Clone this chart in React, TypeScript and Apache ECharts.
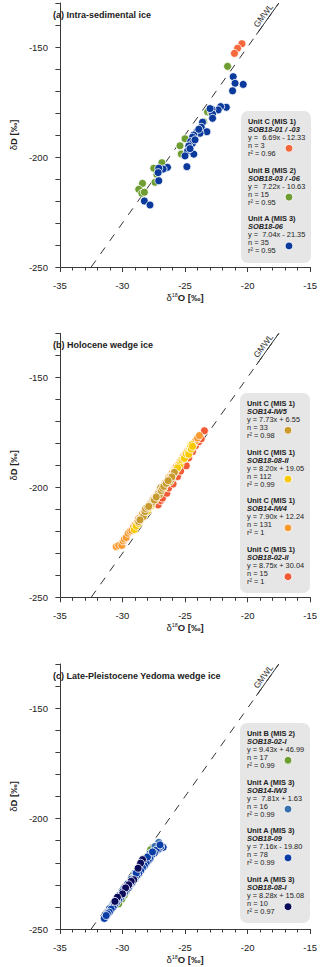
import React, { useEffect, useRef } from "react";
import * as echarts from "echarts";

const FONT = "'Liberation Sans', Arial, Helvetica, sans-serif";

const X_MIN = -35;
const X_MAX = -15;
const X_STEP = 5;
const Y_MIN = -250;
const Y_MAX = -130;
const Y_STEP = 10;
const Y_LABELS = [-250, -200, -150];

const GMWL_LINE = [[-32.5, -250], [-17.5, -130]];
const GMWL_UNDERLINE = [[-19.3, -144.4], [-17.5, -130]];
const GMWL_LABEL_AT = [-18.4, -137.2];

const PANEL_TITLES = [
  "(a) Intra-sedimental ice",
  "(b) Holocene wedge ice",
  "(c) Late-Pleistocene Yedoma wedge ice",
];

// ---------- panel (a) ----------
const A_UNIT_C = [[-20.45, -148.5], [-20.8, -150.6], [-21.05, -152.9]];
const A_UNIT_B = [
  [-21.6, -158.8], [-23.2, -179.5], [-23.5, -184.0], [-25.0, -191.7], [-25.4, -194.9],
  [-25.3, -198.6], [-26.85, -202.6], [-27.5, -205.1], [-27.25, -207.9], [-27.4, -211.5],
  [-28.4, -212.0], [-28.7, -214.7], [-28.45, -216.5], [-28.25, -216.0], [-22.9, -179.8],
];
const A_UNIT_A = [
  [-21.15, -163.5], [-21.0, -166.5], [-20.35, -167.0], [-21.2, -169.9], [-21.7, -177.4],
  [-22.15, -177.1], [-22.35, -178.6], [-22.85, -178.3], [-22.8, -180.5], [-22.8, -182.4],
  [-23.6, -184.2], [-23.7, -186.5], [-23.25, -188.5], [-24.05, -188.5], [-23.8, -189.2],
  [-24.3, -190.0], [-24.4, -191.0], [-24.55, -193.0], [-24.4, -193.8], [-24.7, -195.0],
  [-24.8, -197.3], [-25.0, -199.5], [-24.3, -198.7], [-24.85, -204.4], [-26.4, -204.7],
  [-26.75, -205.5], [-27.1, -205.1], [-27.15, -207.1], [-27.1, -210.8], [-28.25, -220.0],
  [-27.8, -221.8], [-23.0, -178.0], [-23.9, -187.4], [-24.6, -196.2], [-24.2, -192.2],
];
const A_NAMES = ["Unit C (MIS 1)", "Unit B (MIS 2)", "Unit A (MIS 3)"];
const A_SAMPLES = ["SOB18-01 / -03", "SOB18-03 / -06", "SOB18-06"];
const A_EQS = ["y =  6.69x - 12.33", "y =  7.22x - 10.63", "y =  7.04x - 21.35"];
const A_N = [3, 15, 35];
const A_R2 = ["0.96", "0.95", "0.95"];
const A_COLORS = ["#F4683C", "#6E9E32", "#0B3A9C"];

// ---------- panel (b) ----------
const B_IW5 = [
  [-28.7, -215.6], [-28.5, -214.0], [-28.35, -213.4], [-28.2, -211.0], [-28.15, -209.6],
  [-28.0, -209.0], [-27.85, -208.3], [-27.7, -207.6], [-27.6, -206.8], [-27.55, -205.6],
  [-27.4, -205.0], [-27.25, -203.9], [-27.15, -203.0], [-27.05, -203.4], [-26.95, -200.2],
  [-26.9, -201.5], [-26.8, -200.4], [-26.6, -199.0], [-26.45, -198.0], [-26.3, -196.8],
  [-26.2, -197.5], [-26.1, -196.4], [-26.0, -194.6], [-25.9, -193.8], [-25.85, -193.2],
  [-27.45, -205.8], [-26.7, -199.6], [-26.05, -195.3], [-28.6, -214.8], [-27.9, -208.7],
  [-26.5, -198.2], [-27.3, -204.4], [-26.35, -197.0],
];
const B_0808II = [
  [-29.05, -219.2], [-28.9, -217.6], [-28.7, -216.4], [-28.55, -214.6], [-28.35, -213.6],
  [-28.2, -211.9], [-28.0, -210.8], [-27.85, -209.0], [-27.7, -208.4], [-27.5, -206.2],
  [-27.35, -205.5], [-27.2, -203.6], [-27.0, -202.7], [-26.85, -200.9], [-26.7, -200.3],
  [-26.5, -198.0], [-26.35, -197.4], [-26.2, -195.5], [-26.0, -194.6], [-25.85, -192.6],
  [-25.7, -192.0], [-25.5, -189.7], [-25.4, -189.8], [-25.25, -187.6], [-25.1, -187.2],
  [-25.05, -186.8], [-24.9, -184.7], [-24.75, -184.3], [-24.7, -185.0], [-24.6, -182.4],
  [-24.55, -181.2], [-24.5, -182.6], [-24.45, -180.6], [-24.4, -181.4], [-25.6, -191.2],
];
const B_IW4 = [
  [-30.5, -227.0], [-30.3, -226.5], [-30.05, -226.4], [-29.95, -224.4], [-29.85, -223.5],
  [-29.7, -222.8], [-29.55, -220.9], [-29.4, -220.0], [-29.25, -219.6], [-29.1, -217.8],
  [-28.95, -216.9], [-28.8, -215.6], [-28.7, -214.1], [-28.55, -213.4], [-28.4, -212.0],
  [-28.25, -211.4], [-28.1, -209.9], [-27.95, -209.2], [-27.8, -207.4], [-27.65, -206.7],
  [-27.5, -205.0], [-27.35, -204.6], [-27.2, -202.9], [-27.05, -201.8], [-26.9, -200.6],
  [-26.75, -199.6], [-26.6, -197.9], [-26.45, -197.3], [-26.3, -195.4], [-26.15, -194.6],
  [-26.0, -193.2], [-25.85, -192.0], [-25.7, -190.6], [-25.55, -189.8], [-25.4, -188.3],
  [-25.25, -187.4], [-25.1, -185.8], [-24.95, -184.9], [-24.8, -183.4], [-24.65, -182.6],
  [-24.5, -181.0], [-24.35, -180.2], [-24.15, -178.8], [-24.0, -177.6], [-23.85, -176.5],
];
const B_0802II = [
  [-27.15, -208.0], [-26.95, -206.0], [-26.8, -204.9], [-26.45, -202.7], [-26.3, -200.3],
  [-25.95, -198.5], [-25.6, -195.1], [-25.35, -192.6], [-24.9, -190.2], [-24.7, -186.6],
  [-24.4, -183.8], [-24.15, -181.0], [-23.9, -179.3], [-23.7, -177.9], [-23.45, -174.3],
];
const B_NAMES = ["Unit C (MIS 1)", "Unit C (MIS 1)", "Unit C (MIS 1)", "Unit C (MIS 1)"];
const B_SAMPLES = ["SOB14-IW5", "SOB18-08-II", "SOB14-IW4", "SOB18-02-II"];
const B_EQS = ["y = 7.73x + 6.55", "y = 8.20x + 19.05", "y = 7.90x + 12.24", "y = 8.75x + 30.04"];
const B_N = [33, 112, 131, 15];
const B_R2 = ["0.98", "0.99", "1", "1"];
const B_COLORS = ["#C99A2E", "#F8C800", "#F89A30", "#F05A35"];

// ---------- panel (c) ----------
const C_0802I = [
  [-27.75, -214.1], [-27.9, -216.6], [-28.05, -217.3], [-28.2, -219.5], [-28.35, -220.2],
  [-28.5, -222.1], [-28.65, -223.6], [-28.75, -224.4], [-28.9, -225.8], [-29.05, -226.9],
  [-29.2, -228.2], [-29.35, -229.5], [-29.5, -231.4], [-29.7, -233.0], [-29.85, -234.7],
  [-30.05, -236.5], [-30.3, -238.6],
];
const C_IW3 = [
  [-27.1, -210.8], [-27.4, -212.6], [-27.8, -215.8], [-28.2, -218.6], [-28.6, -221.9],
  [-29.0, -224.7], [-29.3, -227.4], [-29.6, -229.6], [-29.9, -231.7], [-30.2, -234.5],
  [-30.5, -236.4], [-30.7, -238.4], [-30.9, -240.0], [-31.05, -240.8], [-31.2, -242.6],
  [-31.4, -243.6],
];
const C_0809 = [
  [-26.75, -213.0], [-26.95, -212.8], [-27.15, -214.0], [-27.3, -214.3], [-27.45, -215.6],
  [-27.65, -216.4], [-27.8, -218.2], [-27.95, -219.0], [-28.1, -220.1], [-28.25, -221.4],
  [-28.4, -222.3], [-28.55, -223.6], [-28.7, -224.9], [-28.85, -225.8], [-29.0, -227.1],
  [-29.1, -227.8], [-29.25, -229.3], [-29.4, -229.9], [-29.55, -231.6], [-29.7, -232.3],
  [-29.85, -233.7], [-30.0, -234.4], [-30.15, -235.8], [-30.3, -236.6], [-30.45, -237.9],
  [-30.6, -238.7], [-30.75, -240.2], [-30.9, -241.0], [-31.05, -242.4], [-31.2, -243.1],
  [-31.35, -244.6], [-31.45, -245.2], [-28.0, -217.4], [-29.2, -228.6], [-30.5, -236.9],
  [-27.6, -215.1], [-28.9, -224.7], [-30.0, -233.2], [-31.3, -243.9], [-27.0, -211.9],
];
const C_0808I = [
  [-28.4, -218.6], [-28.55, -220.2], [-28.75, -222.5], [-29.1, -227.7], [-29.3, -228.4],
  [-29.5, -230.0], [-29.75, -231.4], [-30.0, -234.1], [-30.4, -235.6], [-30.6, -237.5],
];
const C_NAMES = ["Unit B (MIS 2)", "Unit A (MIS 3)", "Unit A (MIS 3)", "Unit A (MIS 3)"];
const C_SAMPLES = ["SOB18-02-I", "SOB14-IW3", "SOB18-09", "SOB18-08-I"];
const C_EQS = ["y = 9.43x + 46.99", "y =  7.81x + 1.63", "y = 7.16x - 19.80", "y = 8.28x + 15.08"];
const C_N = [17, 16, 78, 10];
const C_R2 = ["0.99", "0.99", "0.99", "0.97"];
const C_COLORS = ["#6E9E32", "#3A72B0", "#0A3DA5", "#0B0B5C"];

type Panel = {
  series: number[][][];
  drawOrder: number[];
  names: string[];
  samples: string[];
  eqs: string[];
  n: number[];
  r2: string[];
  colors: string[];
};

const PANELS: Panel[] = [
  { series: [A_UNIT_C, A_UNIT_B, A_UNIT_A], drawOrder: [0, 1, 2], names: A_NAMES, samples: A_SAMPLES, eqs: A_EQS, n: A_N, r2: A_R2, colors: A_COLORS },
  { series: [B_IW5, B_0808II, B_IW4, B_0802II], drawOrder: [3, 2, 1, 0], names: B_NAMES, samples: B_SAMPLES, eqs: B_EQS, n: B_N, r2: B_R2, colors: B_COLORS },
  { series: [C_0802I, C_IW3, C_0809, C_0808I], drawOrder: [0, 1, 2, 3], names: C_NAMES, samples: C_SAMPLES, eqs: C_EQS, n: C_N, r2: C_R2, colors: C_COLORS },
];

// layout (pixels)
const GRID_LEFT = 46;
const GRID_WIDTH = 265;
const GRID_TOPS = [3, 333.3, 664];
const GRID_HEIGHTS = [264, 264, 265];
const LEGEND_BOXES = [
  { x: 241, y: 111, w: 70, h: 152, first: 121.3 },
  { x: 240, y: 393, w: 70, h: 200, first: 403.3 },
  { x: 240, y: 723, w: 70, h: 200, first: 733.3 },
];
const LEGEND_STEP = 48.8;

const AXIS_COLOR = "#3a3a3a";
const TEXT_COLOR = "#222";

export default function App() {
  const ref = useRef<HTMLDivElement>(null);

  useEffect(() => {
    if (!ref.current) return;
    const chart = echarts.init(ref.current, undefined, { renderer: "svg" });

    const grids = GRID_TOPS.map((top, i) => ({
      left: GRID_LEFT,
      top,
      width: GRID_WIDTH,
      height: GRID_HEIGHTS[i],
      containLabel: false,
    }));

    const nameRich = {
      d: { fontSize: 9.5, fontFamily: FONT, color: TEXT_COLOR, fontWeight: "normal" },
      sup: { fontSize: 5.5, fontFamily: FONT, color: TEXT_COLOR, fontWeight: "normal", verticalAlign: "top", padding: [0, 0, 4, 0] },
      b: { fontSize: 9.5, fontFamily: FONT, color: TEXT_COLOR, fontWeight: "bold" },
    };

    const xAxes = GRID_TOPS.map((_, i) => ({
      type: "value",
      gridIndex: i,
      min: X_MIN,
      max: X_MAX,
      interval: X_STEP,
      axisLine: { show: true, onZero: false, lineStyle: { color: AXIS_COLOR, width: 1 } },
      axisTick: { show: true, length: 5, lineStyle: { color: AXIS_COLOR } },
      minorTick: { show: true, splitNumber: 5, length: 3.5, lineStyle: { color: AXIS_COLOR } },
      splitLine: { show: false },
      axisLabel: { fontSize: 9.5, color: TEXT_COLOR, fontFamily: FONT, margin: 13 },
      name: "{d|δ}{sup|18}{b|O [‰]}",
      nameLocation: "middle",
      nameGap: 25,
      nameTextStyle: { rich: nameRich },
    }));

    const yAxes = GRID_TOPS.map((_, i) => ({
      type: "value",
      gridIndex: i,
      min: Y_MIN,
      max: Y_MAX,
      interval: Y_STEP,
      axisLine: { show: true, onZero: false, lineStyle: { color: AXIS_COLOR, width: 1 } },
      axisTick: { show: true, length: 4.5, lineStyle: { color: AXIS_COLOR } },
      splitLine: { show: false },
      axisLabel: {
        fontSize: 9.5,
        color: TEXT_COLOR,
        fontFamily: FONT,
        margin: 12,
        formatter: (v: number) => (Y_LABELS.includes(Math.round(v)) ? String(Math.round(v)) : ""),
      },
      name: "{d|δ}{b|D [‰]}",
      nameLocation: "middle",
      nameGap: 31,
      nameTextStyle: { rich: nameRich },
    }));

    const series: any[] = [];
    PANELS.forEach((p, i) => {
      series.push({
        type: "line",
        xAxisIndex: i,
        yAxisIndex: i,
        data: GMWL_LINE,
        symbol: "none",
        silent: true,
        lineStyle: { color: "#333", width: 1, type: [8, 8] },
        z: 1,
      });
      series.push({
        type: "line",
        xAxisIndex: i,
        yAxisIndex: i,
        data: GMWL_UNDERLINE,
        symbol: "none",
        silent: true,
        lineStyle: { color: "#333", width: 1 },
        z: 1,
      });
      p.drawOrder.forEach((k) => {
        series.push({
          type: "scatter",
          name: p.samples[k],
          xAxisIndex: i,
          yAxisIndex: i,
          data: p.series[k],
          symbol: "circle",
          symbolSize: 8,
          itemStyle: { color: p.colors[k], borderColor: "#ffffff", borderWidth: 0.8, opacity: 1 },
          z: 3,
        });
      });
    });

    chart.setOption({
      animation: false,
      backgroundColor: "#ffffff",
      textStyle: { fontFamily: FONT },
      grid: grids,
      xAxis: xAxes,
      yAxis: yAxes,
      series,
    });

    const graphics: any[] = [];
    PANELS.forEach((p, i) => {
      // panel title
      graphics.push({
        type: "text",
        x: 53,
        y: GRID_TOPS[i] + 12,
        style: {
          text: PANEL_TITLES[i],
          fontSize: 9,
          fontWeight: "bold",
          fontFamily: FONT,
          fill: TEXT_COLOR,
          textAlign: "left",
          textVerticalAlign: "middle",
        },
        z: 10,
      });
      // GMWL label
      const pt = chart.convertToPixel({ gridIndex: i }, GMWL_LABEL_AT) as number[];
      graphics.push({
        type: "text",
        x: pt[0],
        y: pt[1],
        rotation: (53 * Math.PI) / 180,
        style: {
          text: "GMWL",
          x: 0,
          y: -1,
          fontSize: 8.5,
          fontFamily: FONT,
          fill: "#333",
          textAlign: "center",
          textVerticalAlign: "bottom",
        },
        z: 10,
      });
      // legend box
      const box = LEGEND_BOXES[i];
      graphics.push({
        type: "rect",
        shape: { x: box.x, y: box.y, width: box.w, height: box.h, r: 7 },
        style: { fill: "#e6e6e6" },
        z: 5,
      });
      p.names.forEach((name, k) => {
        const top = box.first + k * LEGEND_STEP;
        const lines = [
          { t: name, w: "bold", s: "normal" },
          { t: p.samples[k], w: "bold", s: "italic" },
          { t: p.eqs[k], w: "normal", s: "normal" },
          { t: "n = " + p.n[k], w: "normal", s: "normal" },
          { t: "r² = " + p.r2[k], w: "normal", s: "normal" },
        ];
        lines.forEach((ln, j) => {
          graphics.push({
            type: "text",
            x: box.x + 7,
            y: top + j * 8,
            style: {
              text: ln.t,
              fontSize: 7.4,
              fontWeight: ln.w,
              fontStyle: ln.s,
              fontFamily: FONT,
              fill: TEXT_COLOR,
              textAlign: "left",
              textVerticalAlign: "middle",
            },
            z: 6,
          });
        });
        graphics.push({
          type: "circle",
          shape: { cx: box.x + 48, cy: top + 27, r: 3.9 },
          style: { fill: p.colors[k], stroke: "#ffffff", lineWidth: 0.8 },
          z: 6,
        });
      });
    });

    chart.setOption({ graphic: graphics });

    return () => chart.dispose();
  }, []);

  return (
    <div
      ref={ref}
      style={{ position: "absolute", left: 0, top: 0, width: 320, height: 967 }}
    />
  );
}
